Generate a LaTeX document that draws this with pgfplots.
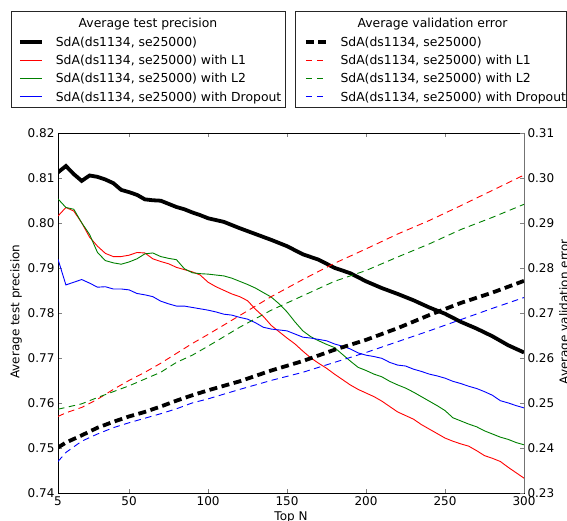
\documentclass[border=0pt]{standalone}
\usepackage{pgfplots}
\usepackage{pgfplotstable}
\pgfplotsset{compat=1.18}
\usepackage{fontspec}
\setmainfont{DejaVu Sans}

\pgfplotstableread{
x y
5 0.8112
10 0.8126
15 0.8108
20 0.8093
25 0.8105
30 0.8102
35 0.8096
40 0.8088
45 0.8073
50 0.8068
55 0.8062
60 0.8052
65 0.8050
70 0.8049
75 0.8042
80 0.8035
85 0.8030
90 0.8023
95 0.8017
100 0.8010
110 0.8002
120 0.7988
130 0.7975
140 0.7962
150 0.7948
160 0.7930
170 0.7918
180 0.7900
190 0.7888
200 0.7870
210 0.7855
220 0.7842
230 0.7828
240 0.7812
250 0.7798
260 0.7780
270 0.7765
280 0.7748
290 0.7728
300 0.7712
}\prbase

\pgfplotstableread{
x y
5 0.8015
10 0.8034
15 0.8026
20 0.8000
25 0.7968
30 0.7948
35 0.7932
40 0.7925
45 0.7925
50 0.7928
55 0.7934
60 0.7933
65 0.7920
70 0.7914
75 0.7909
80 0.7901
85 0.7896
90 0.7891
95 0.7884
100 0.7868
105 0.7858
110 0.7850
115 0.7842
120 0.7836
125 0.7827
130 0.7808
135 0.7792
140 0.7772
145 0.7758
150 0.7744
155 0.7731
160 0.7715
165 0.7700
170 0.7688
175 0.7677
180 0.7664
185 0.7652
190 0.7640
195 0.7630
200 0.7622
205 0.7614
210 0.7604
215 0.7592
220 0.7580
225 0.7572
230 0.7564
235 0.7552
240 0.7542
245 0.7532
250 0.7522
255 0.7515
260 0.7509
265 0.7504
270 0.7494
275 0.7483
280 0.7477
285 0.7470
290 0.7457
295 0.7445
300 0.7433
}\prlone

\pgfplotstableread{
x y
5 0.8053
10 0.8034
15 0.8030
20 0.8000
25 0.7974
30 0.7934
35 0.7916
40 0.7911
45 0.7908
50 0.7913
55 0.7920
60 0.7931
65 0.7933
70 0.7925
75 0.7921
80 0.7918
85 0.7898
90 0.7889
95 0.7887
100 0.7886
105 0.7884
110 0.7882
115 0.7877
120 0.7870
125 0.7863
130 0.7855
135 0.7845
140 0.7835
145 0.7820
150 0.7802
155 0.7780
160 0.7760
165 0.7747
170 0.7738
175 0.7730
180 0.7723
185 0.7708
190 0.7693
195 0.7679
200 0.7672
205 0.7664
210 0.7658
215 0.7648
220 0.7640
225 0.7633
230 0.7624
235 0.7614
240 0.7604
245 0.7594
250 0.7583
255 0.7567
260 0.7560
265 0.7553
270 0.7547
275 0.7538
280 0.7531
285 0.7524
290 0.7519
295 0.7512
300 0.7507
}\prltwo

\pgfplotstableread{
x y
5 0.7919
10 0.7862
15 0.7868
20 0.7874
25 0.7866
30 0.7857
35 0.7858
40 0.7853
45 0.7853
50 0.7851
55 0.7843
60 0.7840
65 0.7836
70 0.7826
75 0.7820
80 0.7815
85 0.7815
90 0.7812
95 0.7809
100 0.7806
105 0.7802
110 0.7797
115 0.7795
120 0.7790
125 0.7786
130 0.7778
135 0.7768
140 0.7764
145 0.7762
150 0.7760
155 0.7753
160 0.7746
165 0.7744
170 0.7741
175 0.7738
180 0.7731
185 0.7726
190 0.7720
195 0.7711
200 0.7706
205 0.7703
210 0.7699
215 0.7690
220 0.7684
225 0.7682
230 0.7675
235 0.7670
240 0.7664
245 0.7660
250 0.7655
255 0.7648
260 0.7643
265 0.7637
270 0.7632
275 0.7625
280 0.7617
285 0.7605
290 0.7600
295 0.7594
300 0.7589
}\prdrop

\pgfplotstableread{
x y
5 0.2401
10 0.2412
20 0.2428
30 0.2445
40 0.2458
50 0.2470
60 0.2480
70 0.2492
80 0.2505
90 0.2517
100 0.2528
120 0.2548
140 0.2572
160 0.2593
180 0.2618
200 0.2640
220 0.2666
240 0.2695
260 0.2722
280 0.2745
300 0.2771
}\vebase

\pgfplotstableread{
x y
5 0.2470
10 0.2478
20 0.2490
30 0.2508
40 0.2530
50 0.2550
60 0.2568
70 0.2588
80 0.2610
90 0.2632
100 0.2652
120 0.2694
140 0.2736
160 0.2774
180 0.2810
200 0.2842
220 0.2875
240 0.2905
260 0.2938
280 0.2972
300 0.3006
}\velone

\pgfplotstableread{
x y
5 0.2486
10 0.2490
20 0.2498
30 0.2512
40 0.2525
50 0.2538
60 0.2553
70 0.2568
80 0.2590
90 0.2606
100 0.2626
120 0.2668
140 0.2706
160 0.2738
180 0.2770
200 0.2794
220 0.2824
240 0.2853
260 0.2885
280 0.2912
300 0.2941
}\veltwo

\pgfplotstableread{
x y
5 0.2370
10 0.2390
20 0.2415
30 0.2431
40 0.2445
50 0.2456
60 0.2466
70 0.2476
80 0.2487
90 0.2500
100 0.2509
120 0.2530
140 0.2550
160 0.2568
180 0.2590
200 0.2612
220 0.2636
240 0.2660
260 0.2685
280 0.2710
300 0.2734
}\vedrop

\definecolor{mplgreen}{RGB}{0,128,0}

\pgfplotsset{
  common/.style={
    at={(58pt,28pt)}, anchor=south west,
    scale only axis, width=466pt, height=360.3pt,
    xmin=5, xmax=300,
    tick align=inside, major tick length=4pt,
    tick label style={font=\fontsize{12}{14}\selectfont},
    /pgf/number format/assume math mode=true,
    yticklabel style={/pgf/number format/.cd, fixed, fixed zerofill, precision=2},
    label style={font=\fontsize{12}{14}\selectfont},
    legend cell align=left,
    legend image code/.code={\draw[##1] (0pt,0pt) -- (22pt,0pt);},
  },
  legstyle/.style={
    draw=none, fill=none, inner sep=0pt, outer sep=0pt, row sep=5.3pt,
    font=\fontsize{12.4}{14}\selectfont,
    nodes={inner sep=0pt, text height=11pt, text depth=2pt},
    cells={anchor=west},
    anchor=north west,
  },
}

\begin{document}
\begin{tikzpicture}
\useasboundingbox (0,0) rectangle (567pt,521pt);
\begin{axis}[common,
  ymin=0.74, ymax=0.82,
  ytick={0.74,0.75,0.76,0.77,0.78,0.79,0.80,0.81,0.82},
  xtick={5,50,100,150,200,250,300},
  ytick pos=left,
  xlabel={Top N},
  ylabel={Average test precision},
  xlabel style={at={(axis description cs:0.5,-0.0766)}, anchor=base},
  ylabel style={at={(axis description cs:-0.0830,0.503)}, anchor=base},
  legend style={legstyle, column sep=12pt, at={(axis description cs:-0.0858,1.2706)}},
]
\addplot[black, line width=3.8pt] table {\prbase};
\addlegendentry{SdA(ds1134, se25000)}
\addplot[red, line width=0.9pt] table {\prlone};
\addlegendentry{SdA(ds1134, se25000) with L1}
\addplot[mplgreen, line width=0.9pt] table {\prltwo};
\addlegendentry{SdA(ds1134, se25000) with L2}
\addplot[blue, line width=0.9pt] table {\prdrop};
\addlegendentry{SdA(ds1134, se25000) with Dropout}
\end{axis}
\begin{axis}[common,
  ymin=0.23, ymax=0.31,
  ytick={0.23,0.24,0.25,0.26,0.27,0.28,0.29,0.30,0.31},
  axis x line=none,
  axis y line*=right,
  axis line style={-, black!55},
  ytick pos=right, yticklabel pos=right,
  ylabel={Average validation error},
  ylabel style={at={(axis description cs:1.0951,0.503)}, anchor=base},
  legend style={legstyle, column sep=10.7pt, at={(axis description cs:0.5279,1.2706)}},
]
\addplot[black, line width=3.8pt, dash pattern=on 8pt off 4.5pt] table {\vebase};
\addlegendentry{SdA(ds1134, se25000)}
\addplot[red, line width=0.9pt, dash pattern=on 6.5pt off 4.5pt] table {\velone};
\addlegendentry{SdA(ds1134, se25000) with L1}
\addplot[mplgreen, line width=0.9pt, dash pattern=on 6.5pt off 4.5pt] table {\veltwo};
\addlegendentry{SdA(ds1134, se25000) with L2}
\addplot[blue, line width=0.9pt, dash pattern=on 6.5pt off 4.5pt] table {\vedrop};
\addlegendentry{SdA(ds1134, se25000) with Dropout}
\end{axis}
\draw[black!85, line width=0.8pt] (11pt,509.3pt) rectangle (285pt,413.3pt);
\draw[black!85, line width=0.8pt] (295.7pt,509.3pt) rectangle (566.6pt,413.3pt);
\node[anchor=base, font=\fontsize{12.4}{14}\selectfont, inner sep=0pt] at (148pt,493.8pt) {Average test precision};
\node[anchor=base, font=\fontsize{12.4}{14}\selectfont, inner sep=0pt] at (432.5pt,493.8pt) {Average validation error};
\end{tikzpicture}
\end{document}
